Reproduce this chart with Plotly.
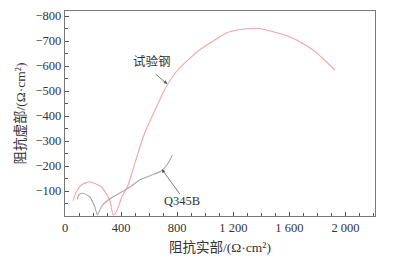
import plotly.graph_objects as go

# Test steel (试验钢) Nyquist data
pink_x = [57, 81, 120, 176, 259, 319, 343, 366, 402, 450, 488, 531, 574, 626, 721, 804, 959, 1174, 1364, 1602, 1769, 1924]
pink_y = [-61, -97, -125, -137, -117, -64, -4, -17, -71, -124, -192, -271, -340, -404, -517, -584, -664, -737, -751, -717, -664, -584]

# Q345B data
gray_x = [88, 100, 128, 176, 212, 231, 259, 307, 388, 474, 531, 610, 686, 730, 766]
gray_y = [-67, -86, -91, -77, -37, -4, -37, -64, -91, -120, -144, -162, -180, -207, -244]

x_tickvals = [0, 400, 800, 1200, 1600, 2000]
x_ticktext = ["0", "400", "800", "1 200", "1 600", "2 000"]
y_tickvals = [-100, -200, -300, -400, -500, -600, -700, -800]
y_ticktext = ["\u2212100", "\u2212200", "\u2212300", "\u2212400", "\u2212500", "\u2212600", "\u2212700", "\u2212800"]

FONT = "Liberation Serif, Noto Sans CJK SC"

fig = go.Figure()
fig.add_trace(go.Scatter(x=pink_x, y=pink_y, mode="lines",
                         line=dict(color="#f4a3aa", width=1.1, shape="spline", smoothing=0.6),
                         showlegend=False))
fig.add_trace(go.Scatter(x=gray_x, y=gray_y, mode="lines",
                         line=dict(color="#a8a8a8", width=1.1, shape="spline", smoothing=0.6),
                         showlegend=False))

# labels
fig.add_annotation(x=620, y=-620, xref="x", yref="y", text="试验钢", showarrow=False,
                   font=dict(family=FONT, size=12.5, color="#333333"))
fig.add_annotation(x=831, y=-61, xref="x", yref="y", text="Q345B", showarrow=False,
                   font=dict(family=FONT, size=12.5, color="#333333"))
# arrows
fig.add_annotation(x=729, y=-528, xref="x", yref="y", text="",
                   showarrow=True, ax=-13, ay=-11, arrowhead=2, arrowsize=0.9,
                   arrowwidth=0.8, arrowcolor="#555555")
fig.add_annotation(x=690, y=-187, xref="x", yref="y", text="",
                   showarrow=True, ax=19, ay=26, arrowhead=2, arrowsize=0.9,
                   arrowwidth=0.8, arrowcolor="#555555")

fig.update_layout(
    width=389, height=251,
    margin=dict(l=57, r=22, t=3, b=43),
    paper_bgcolor="white", plot_bgcolor="white",
    font=dict(family=FONT, size=12.5, color="#333333"),
    xaxis=dict(range=[0, 2210], tickvals=x_tickvals, ticktext=x_ticktext,
               ticks="inside", ticklen=4, tickcolor="#555555", automargin=False,
               minor=dict(dtick=100, ticks="inside", ticklen=3, tickcolor="#555555"),
               showline=True, linecolor="#777777", linewidth=1.3, mirror=True,
               showgrid=False, zeroline=False,
               title=dict(text="阻抗实部/(Ω·cm²)", font=dict(family=FONT, size=13.5), standoff=8)),
    yaxis=dict(range=[0, -820], tickvals=y_tickvals, ticktext=y_ticktext,
               ticks="inside", ticklen=4, tickcolor="#555555", automargin=False,
               minor=dict(dtick=50, ticks="inside", ticklen=3, tickcolor="#555555"),
               showline=True, linecolor="#777777", linewidth=1.3, mirror=True,
               showgrid=False, zeroline=False,
               title=dict(text="阻抗虚部/(Ω·cm²)", font=dict(family=FONT, size=13.5), standoff=6)),
)

fig.write_html("out.html")
